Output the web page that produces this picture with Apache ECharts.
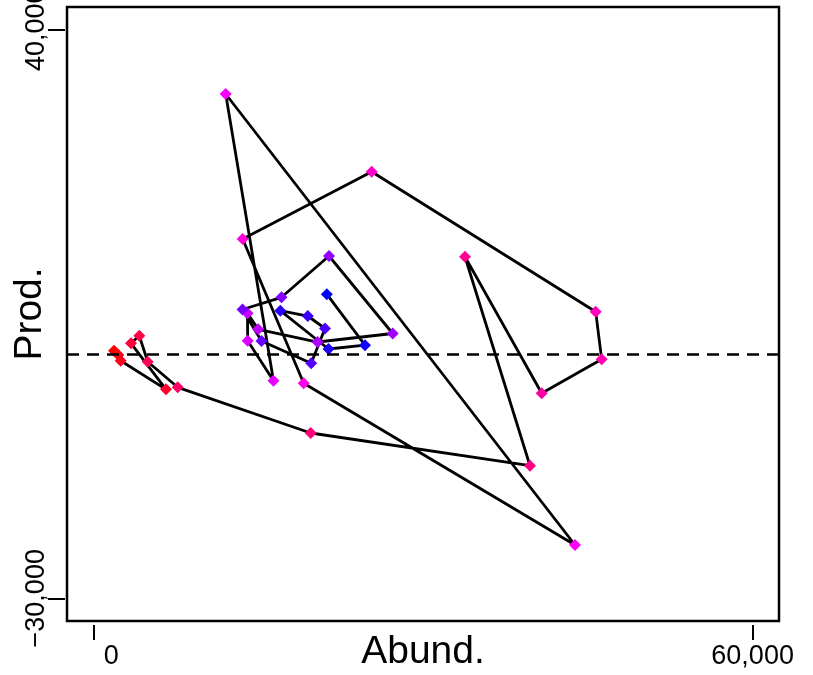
<!DOCTYPE html>
<html>
<head>
<meta charset="utf-8">
<script src="https://cdn.jsdelivr.net/npm/echarts@6/dist/echarts.min.js"></script>
<style>
html,body{margin:0;padding:0;background:#fff;}
#chart{width:813px;height:675px;}
</style>
</head>
<body>
<div id="chart"></div>
<script>
// Path of (abundance, production) points, in time order
const abund = [1877, 2269, 2487, 6610, 3425, 4180, 4945, 7675, 19779, 39738, 33822, 40803, 46263, 45717, 25331, 13590, 19142, 43833, 12043, 16394, 14045, 14027, 15001, 20407, 27242, 21445, 17121, 13572, 15301, 19825, 21081, 19515, 17012, 21399, 24721, 21244];
const prod = [480, -49, -751, -4273, 1391, 2327, -874, -4026, -9653, -13680, 12054, -4765, -579, 5282, 22520, 14234, -3534, -23444, 32088, -3214, 1699, 5085, 3115, 1551, 2598, 12141, 7055, 5553, 1675, -1071, 3214, 4753, 5405, 690, 1157, 7437];
const xTicks = [0, 60000];
const xTickLabels = ['0', '60,000'];
const yTicks = [-30000, 40000];
const yTickLabels = ['\u221230,000', '40,000'];
const xName = 'Abund.';
const yName = 'Prod.';
const refLine = 0;

const FONT = "'Liberation Sans', Arial, sans-serif";
const n = abund.length;
function rampColor(i) {
  // red -> magenta -> blue
  const t = n > 1 ? i / (n - 1) : 0;
  let r, g = 0, b;
  if (t <= 0.5) { r = 255; b = Math.round(255 * 2 * t); }
  else { r = Math.round(255 * (2 - 2 * t)); b = 255; }
  return 'rgb(' + r + ',' + g + ',' + b + ')';
}
const seriesData = abund.map((x, i) => ({
  value: [x, prod[i]],
  itemStyle: { color: rampColor(i) }
}));

const chart = echarts.init(document.getElementById('chart'), null, { renderer: 'canvas' });
chart.setOption({
  animation: false,
  backgroundColor: '#fff',
  grid: {
    left: 67, right: 34, top: 7, bottom: 54,
    containLabel: false, outerBoundsMode: 'none',
    show: true, borderColor: '#000', borderWidth: 2.5, backgroundColor: 'transparent'
  },
  xAxis: {
    type: 'value', min: -2400, max: 62400,
    offset: 4,
    axisLine: { show: false, onZero: false },
    splitLine: { show: false },
    axisTick: { show: true, customValues: xTicks, length: 15, lineStyle: { color: '#000', width: 2 } },
    axisLabel: {
      show: true, customValues: xTicks, margin: 18, color: '#000', fontSize: 27, fontFamily: FONT,
      formatter: v => {
        const idx = xTicks.indexOf(v);
        const s = idx >= 0 ? xTickLabels[idx] : '';
        return v === 0 ? '{z|' + s + '}' : s;
      },
      rich: { z: { padding: [0, 0, 0, 36], fontSize: 27, fontFamily: FONT, color: '#000' } }
    },
    name: xName, nameLocation: 'middle', nameGap: 8, nameMoveOverlap: false,
    nameTextStyle: { fontSize: 39, color: '#000', fontFamily: FONT, verticalAlign: 'top' }
  },
  yAxis: {
    type: 'value', min: -32800, max: 42800,
    offset: 2,
    axisLine: { show: false, onZero: false },
    splitLine: { show: false },
    axisTick: { show: true, customValues: yTicks, length: 17, lineStyle: { color: '#000', width: 2 } },
    axisLabel: {
      show: true, customValues: yTicks, rotate: 90, margin: 15, color: '#000', fontSize: 27, fontFamily: FONT,
      formatter: v => {
        const idx = yTicks.indexOf(v);
        return idx >= 0 ? yTickLabels[idx] : '';
      }
    },
    name: yName, nameLocation: 'middle', nameGap: 15, nameRotate: 90, nameMoveOverlap: false,
    nameTextStyle: { fontSize: 39, color: '#000', fontFamily: FONT, verticalAlign: 'bottom' }
  },
  series: [{
    type: 'line',
    data: seriesData,
    symbol: 'diamond',
    symbolSize: 12,
    showAllSymbol: true,
    lineStyle: { color: '#000', width: 2.8 },
    emphasis: { disabled: true },
    markLine: {
      silent: true,
      symbol: ['none', 'none'],
      label: { show: false },
      lineStyle: { color: '#000', width: 2.5, type: [12, 8] },
      data: [{ yAxis: refLine }]
    },
    z: 3
  }]
});
</script>
</body>
</html>
